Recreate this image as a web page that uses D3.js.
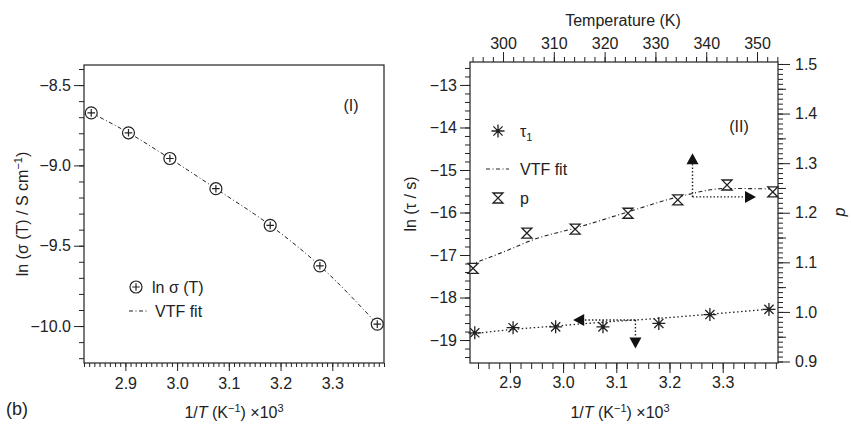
<!DOCTYPE html>
<html>
<head>
<meta charset="utf-8">
<script src="https://cdn.jsdelivr.net/npm/d3@7"></script>
<style>
  body { margin: 0; background: #fff; }
  svg { font-family: "Liberation Sans", Arial, sans-serif; }
  .tick text { font-size: 16px; fill: #222; }
  .tick line { stroke: #222; }
  .frame { fill: none; stroke: #222; stroke-width: 1.2; }
  .lbl { font-size: 16px; fill: #222; }
</style>
</head>
<body>
<svg id="chart" width="851" height="429"></svg>
<script>
// panel (I): ln sigma vs 1/T
const invT = [2.834, 2.906, 2.986, 3.075, 3.180, 3.276, 3.387];
const lnSigma = [-8.673, -8.797, -8.957, -9.145, -9.373, -9.625, -9.988];
const sigmaFitX = [2.834, 2.906, 2.986, 3.075, 3.180, 3.276, 3.387];
const sigmaFitY = [-8.673, -8.797, -8.957, -9.145, -9.373, -9.625, -9.988];

// panel (II): ln tau1 vs 1/T (bottom/left), p vs T (top/right)
const lnTau = [-18.83, -18.71, -18.69, -18.69, -18.61, -18.40, -18.28];
const tauFitX = [2.825, 2.906, 2.986, 3.075, 3.180, 3.278, 3.392];
const tauFitY = [-18.86, -18.75, -18.67, -18.58, -18.49, -18.39, -18.27];
const pTemp = [294.1, 304.7, 314.2, 324.6, 334.4, 344.1, 353.1];
const pD = [1.088, 1.159, 1.167, 1.199, 1.226, 1.256, 1.242];
const pFitT = [293.5, 300.1, 306.6, 314.2, 324.7, 334.5, 344.0, 353.1];
const pFitD = [1.095, 1.121, 1.148, 1.169, 1.202, 1.232, 1.249, 1.248];

// tick labels
const invTTicks = [2.9, 3.0, 3.1, 3.2, 3.3];
const sigmaTicks = [-8.5, -9.0, -9.5, -10.0];
const tauTicks = [-13, -14, -15, -16, -17, -18, -19];
const tempTicks = [300, 310, 320, 330, 340, 350];
const dTicks = [0.9, 1.0, 1.1, 1.2, 1.3, 1.4, 1.5];

// arrows [x0, y0, x1, y1]
const tempArrows = [[337.3, 1.232, 337.3, 1.32], [337.3, 1.232, 349.8, 1.232]];   // T, d
const invTArrows = [[3.136, -18.53, 3.136, -19.2], [3.136, -18.53, 3.019, -18.53]]; // 1/T, ln tau

const svg = d3.select("#chart");

const dashDot = "4,2.5,1,2.5";
const dotted = "1.5,2.5";

function axis(g, gen, major, minor, majLen, minLen, fmt, pad) {
  g.append("g")
    .call(gen.tickValues(minor).tickSize(minLen).tickSizeOuter(0).tickFormat(""))
    .call(s => s.select(".domain").remove());
  g.append("g")
    .call(gen.tickValues(major).tickSize(majLen).tickSizeOuter(0).tickFormat(d3.format(fmt)).tickPadding(pad))
    .call(s => s.select(".domain").remove());
}

function circlePlus(g, x, y) {
  const s = g.append("g").attr("transform", `translate(${x},${y})`);
  s.append("circle").attr("r", 6).attr("fill", "#fff").attr("stroke", "#222").attr("stroke-width", 1.2);
  s.append("path").attr("d", "M-3.8,0H3.8M0,-3.8V3.8").attr("stroke", "#222").attr("stroke-width", 1.2);
}

function star(g, x, y) {
  const s = g.append("g").attr("transform", `translate(${x},${y})`);
  s.append("path").attr("d", "M-6.5,0H6.5M0,-6.5V6.5M-4.6,-4.6L4.6,4.6M-4.6,4.6L4.6,-4.6")
    .attr("stroke", "#222").attr("stroke-width", 1.3);
  s.append("circle").attr("r", 1.8).attr("fill", "#222");
}

function hourglass(g, x, y) {
  g.append("path").attr("transform", `translate(${x},${y})`)
    .attr("d", "M-5,-5H5L-5,5H5Z")
    .attr("fill", "#fff").attr("stroke", "#222").attr("stroke-width", 1.3);
}

function arrow(g, x0, y0, x1, y1) {
  const dx = x1 - x0, dy = y1 - y0, len = Math.hypot(dx, dy);
  const ux = dx / len, uy = dy / len, head = 11, hw = 6;
  const bx = x1 - ux * head, by = y1 - uy * head;
  g.append("line").attr("x1", x0).attr("y1", y0).attr("x2", bx).attr("y2", by)
    .attr("stroke", "#222").attr("stroke-width", 1.4).attr("stroke-dasharray", "1.5,2");
  g.append("path")
    .attr("d", `M${x1},${y1}L${bx - uy * hw},${by + ux * hw}L${bx + uy * hw},${by - ux * hw}Z`)
    .attr("fill", "#111");
}

function xTitle(t) {
  t.append("tspan").text("1/");
  t.append("tspan").attr("font-style", "italic").text("T");
  t.append("tspan").text(" (K");
  t.append("tspan").attr("dy", -6).attr("font-size", 11).text("−1");
  t.append("tspan").attr("dy", 6).text(") ×10");
  t.append("tspan").attr("dy", -6).attr("font-size", 11).text("3");
}

function drawLeft() {
  const x = d3.scaleLinear().domain([2.82, 3.40]).range([84, 384]);
  const y = d3.scaleLinear().domain([-10.23, -8.375]).range([363, 65]);
  const g = svg.append("g");

  axis(g.append("g").attr("transform", "translate(0,363)"), d3.axisBottom(x),
    invTTicks, d3.range(2.82, 3.401, 0.01), 8, 4, ".1f", 7);
  axis(g.append("g").attr("transform", "translate(84,0)"), d3.axisLeft(y),
    sigmaTicks, d3.range(-10.2, -8.39, 0.1), 10, 5, ".1f", 3);

  g.append("rect").attr("class", "frame").attr("x", 84).attr("y", 65).attr("width", 300).attr("height", 298);

  const line = d3.line().x(d => x(d[0])).y(d => y(d[1])).curve(d3.curveMonotoneX);
  g.append("path").datum(d3.zip(sigmaFitX, sigmaFitY)).attr("d", line)
    .attr("fill", "none").attr("stroke", "#222").attr("stroke-width", 1).attr("stroke-dasharray", dashDot);

  invT.forEach((v, i) => circlePlus(g, x(v), y(lnSigma[i])));

  // legend
  circlePlus(g, 136, 287);
  g.append("text").attr("class", "lbl").attr("x", 152).attr("y", 293).text("ln σ (T)");
  g.append("line").attr("x1", 129).attr("x2", 148).attr("y1", 311).attr("y2", 311)
    .attr("stroke", "#222").attr("stroke-dasharray", dashDot);
  g.append("text").attr("class", "lbl").attr("x", 155).attr("y", 317).text("VTF fit");
  g.append("text").attr("class", "lbl").attr("x", 351).attr("y", 111).attr("text-anchor", "middle").text("(I)");

  const xt = g.append("text").attr("class", "lbl").attr("x", 234).attr("y", 418).attr("text-anchor", "middle");
  xTitle(xt);

  const yt = g.append("text").attr("class", "lbl").attr("text-anchor", "middle")
    .attr("transform", "translate(28,214) rotate(-90)");
  yt.append("tspan").text("ln (σ (T) / S cm");
  yt.append("tspan").attr("dy", -6).attr("font-size", 11).text("−1");
  yt.append("tspan").attr("dy", 6).text(")");
}

function drawRight() {
  const left = 470, right = 778, top = 62, bottom = 363;
  const x = d3.scaleLinear().domain([2.825, 3.404]).range([left, right]);
  const xT = d3.scaleLinear().domain([293.5, 354.13]).range([left, right]);
  const y = d3.scaleLinear().domain([-19.54, -12.46]).range([bottom, top]);
  const yD = d3.scaleLinear().domain([0.897, 1.504]).range([bottom, top]);
  const g = svg.append("g");

  axis(g.append("g").attr("transform", `translate(0,${bottom})`), d3.axisBottom(x),
    invTTicks, d3.range(2.84, 3.401, 0.02), 10, 6, ".1f", 4);
  axis(g.append("g").attr("transform", `translate(0,${top})`), d3.axisTop(xT),
    tempTicks, d3.range(294, 354.1, 2), 10, 5, "d", 3);
  axis(g.append("g").attr("transform", `translate(${left},0)`), d3.axisLeft(y),
    tauTicks, d3.range(-19.4, -12.5, 0.2), 10, 5, "d", 3);
  axis(g.append("g").attr("transform", `translate(${right},0)`), d3.axisRight(yD),
    dTicks, d3.range(0.9, 1.5001, 0.01), 12, 5, ".1f", 5);
  axis(g.append("g").attr("transform", `translate(${right},0)`), d3.axisRight(yD),
    [], d3.range(0.95, 1.5, 0.1), 0, 8, ".1f", 5);

  g.append("rect").attr("class", "frame").attr("x", left).attr("y", top)
    .attr("width", right - left).attr("height", bottom - top);

  const tauLine = d3.line().x(d => x(d[0])).y(d => y(d[1])).curve(d3.curveMonotoneX);
  g.append("path").datum(d3.zip(tauFitX, tauFitY)).attr("d", tauLine)
    .attr("fill", "none").attr("stroke", "#222").attr("stroke-width", 1.3).attr("stroke-dasharray", dotted);

  const pLine = d3.line().x(d => xT(d[0])).y(d => yD(d[1])).curve(d3.curveMonotoneX);
  g.append("path").datum(d3.zip(pFitT, pFitD)).attr("d", pLine)
    .attr("fill", "none").attr("stroke", "#222").attr("stroke-width", 1.1).attr("stroke-dasharray", dashDot);

  tempArrows.forEach(a => arrow(g, xT(a[0]), yD(a[1]), xT(a[2]), yD(a[3])));
  invTArrows.forEach(a => arrow(g, x(a[0]), y(a[1]), x(a[2]), y(a[3])));

  invT.forEach((v, i) => star(g, x(v), y(lnTau[i])));
  pTemp.forEach((v, i) => hourglass(g, xT(v), yD(pD[i])));

  // legend
  star(g, 498, 131);
  const tl = g.append("text").attr("class", "lbl").attr("x", 520).attr("y", 137);
  tl.append("tspan").text("τ");
  tl.append("tspan").attr("dy", 4).attr("font-size", 11).text("1");
  g.append("line").attr("x1", 486).attr("x2", 509).attr("y1", 169).attr("y2", 169)
    .attr("stroke", "#222").attr("stroke-dasharray", dashDot);
  g.append("text").attr("class", "lbl").attr("x", 520).attr("y", 175).text("VTF fit");
  hourglass(g, 498, 198);
  g.append("text").attr("class", "lbl").attr("x", 520).attr("y", 204).text("p");
  g.append("text").attr("class", "lbl").attr("x", 739).attr("y", 132).attr("text-anchor", "middle").text("(II)");

  const xt = g.append("text").attr("class", "lbl").attr("x", 620).attr("y", 418).attr("text-anchor", "middle");
  xTitle(xt);
  g.append("text").attr("class", "lbl").attr("x", 623).attr("y", 26).attr("text-anchor", "middle").text("Temperature (K)");

  g.append("text").attr("class", "lbl").attr("text-anchor", "middle")
    .attr("transform", "translate(416,204) rotate(-90)").text("ln (τ / s)");
  g.append("text").attr("class", "lbl").attr("font-style", "italic").attr("text-anchor", "middle")
    .attr("transform", "translate(836,212) rotate(90)").text("d");
}

drawLeft();
drawRight();

svg.append("text").attr("x", 6).attr("y", 415).attr("font-size", 18).attr("fill", "#222").text("(b)");
</script>
</body>
</html>
